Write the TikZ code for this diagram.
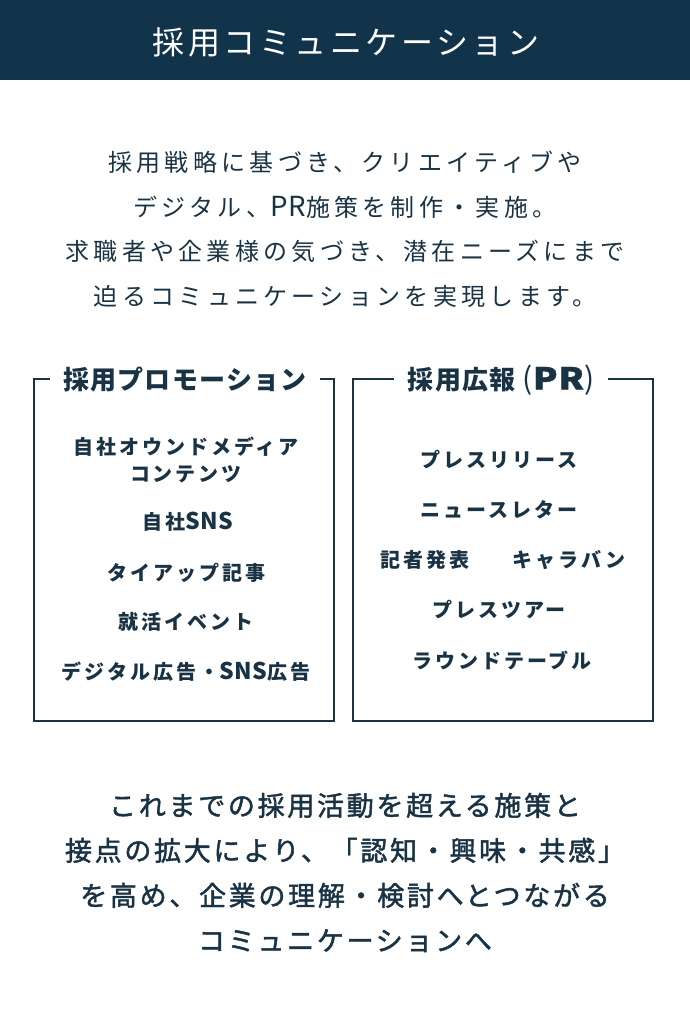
\documentclass[tikz,border=0pt]{standalone}
\usepackage{fontspec}
\setmainfont{Noto Sans CJK JP}
\newfontfamily\hdfont[LetterSpace=11]{Noto Sans CJK JP}
\newfontfamily\parafont[LetterSpace=18]{Noto Sans CJK JP}
\newfontfamily\titlefont[LetterSpace=5]{Noto Sans CJK JP}
\newfontfamily\itemfont[LetterSpace=15]{Noto Sans CJK JP}
\newfontfamily\concfont[LetterSpace=10,FakeBold=1.6]{Noto Sans CJK JP}
\newfontfamily\plainfont[Scale=1.15,LetterSpace=3]{Noto Sans CJK JP}
\newfontfamily\parenfont{Noto Sans CJK JP}
\newfontfamily\prfont[FakeStretch=1.2,LetterSpace=3,FakeBold=1.5]{Noto Sans CJK JP}
\newcommand{\nosp}[1]{{\plainfont #1}}
\newcommand{\thinparen}[1]{{\mdseries\parenfont\fontsize{30}{30}\selectfont #1}}
\newcommand{\bigpr}[1]{{\prfont\fontsize{30}{30}\selectfont #1}}
\definecolor{navy}{HTML}{11344A}
\definecolor{ink}{HTML}{1A3344}
\tikzset{
  header/.style={fill=navy},
  headtext/.style={text=white,font=\hdfont\fontsize{32}{32}\selectfont,inner sep=0pt},
  para/.style={text=ink,align=center,inner sep=0pt,font=\parafont\fontsize{24}{44.5}\selectfont},
  boxtitle/.style={text=ink,inner xsep=13pt,inner ysep=0pt,font=\titlefont\bfseries\fontsize{26}{26}\selectfont},
  boxline/.style={draw=ink,line width=2pt},
  item/.style={text=ink,align=center,inner sep=0pt,font=\itemfont\bfseries\fontsize{20}{27}\selectfont},
  conc/.style={text=ink,align=center,inner sep=0pt,font=\concfont\fontsize{27}{45}\selectfont}
}
\begin{document}
\begin{tikzpicture}[x=1pt,y=-1pt]
\useasboundingbox (0,0) rectangle (690,1034);
\fill[white] (0,0) rectangle (690,1034);
\fill[header] (0,0) rectangle (690,80);
\node[headtext] (head) at (346,42) {採用コミュニケーション};

\node[para] (intro) at (345,229) {採用戦略に基づき、クリエイティブや\\デジタル、\nosp{PR}施策を制作・実施。\\求職者や企業様の気づき、潜在ニーズにまで\\迫るコミュニケーションを実現します。};

% left box
\node[boxtitle] (t1) at (185,380) {採用プロモーション};
\coordinate (l1) at (34,379);
\coordinate (l2) at (34,721);
\coordinate (l3) at (334,721);
\coordinate (l4) at (334,379);
\draw[boxline] (t1.west |- l1) -- (l1) -- (l2) -- (l3) -- (l4) -- (t1.east |- l4);

\node[item] (p1) at (186,459.5) {自社オウンドメディア\\コンテンツ};
\node[item] (p2) at (188,522) {自社\nosp{SNS}};
\node[item] (p3) at (186,573) {タイアップ記事};
\node[item] (p4) at (186,622) {就活イベント};
\node[item] (p5) at (186,672) {デジタル広告・\nosp{SNS}広告};

% right box
\node[boxtitle,inner xsep=14pt] (t2) at (501,380) {採用広報\hspace{7pt}\thinparen{(}\bigpr{PR}\thinparen{)}};
\coordinate (r1) at (353,379);
\coordinate (r2) at (353,721);
\coordinate (r3) at (653,721);
\coordinate (r4) at (653,379);
\draw[boxline] (t2.west |- r1) -- (r1) -- (r2) -- (r3) -- (r4) -- (t2.east |- r4);

\node[item] (q1) at (499,460) {プレスリリース};
\node[item] (q2) at (499,510) {ニュースレター};
\node[item] (q3a) at (425,560) {記者発表};
\node[item] (q3b) at (569,560) {キャラバン};
\node[item] (q4) at (499,610) {プレスツアー};
\node[item] (q5) at (502,660) {ラウンドテーブル};

\node[conc] (concl) at (345,872.5) {これまでの採用活動を超える施策と\\接点の拡大により、「認知・興味・共感」\\を高め、企業の理解・検討へとつながる\\コミュニケーションへ};
\end{tikzpicture}
\end{document}
